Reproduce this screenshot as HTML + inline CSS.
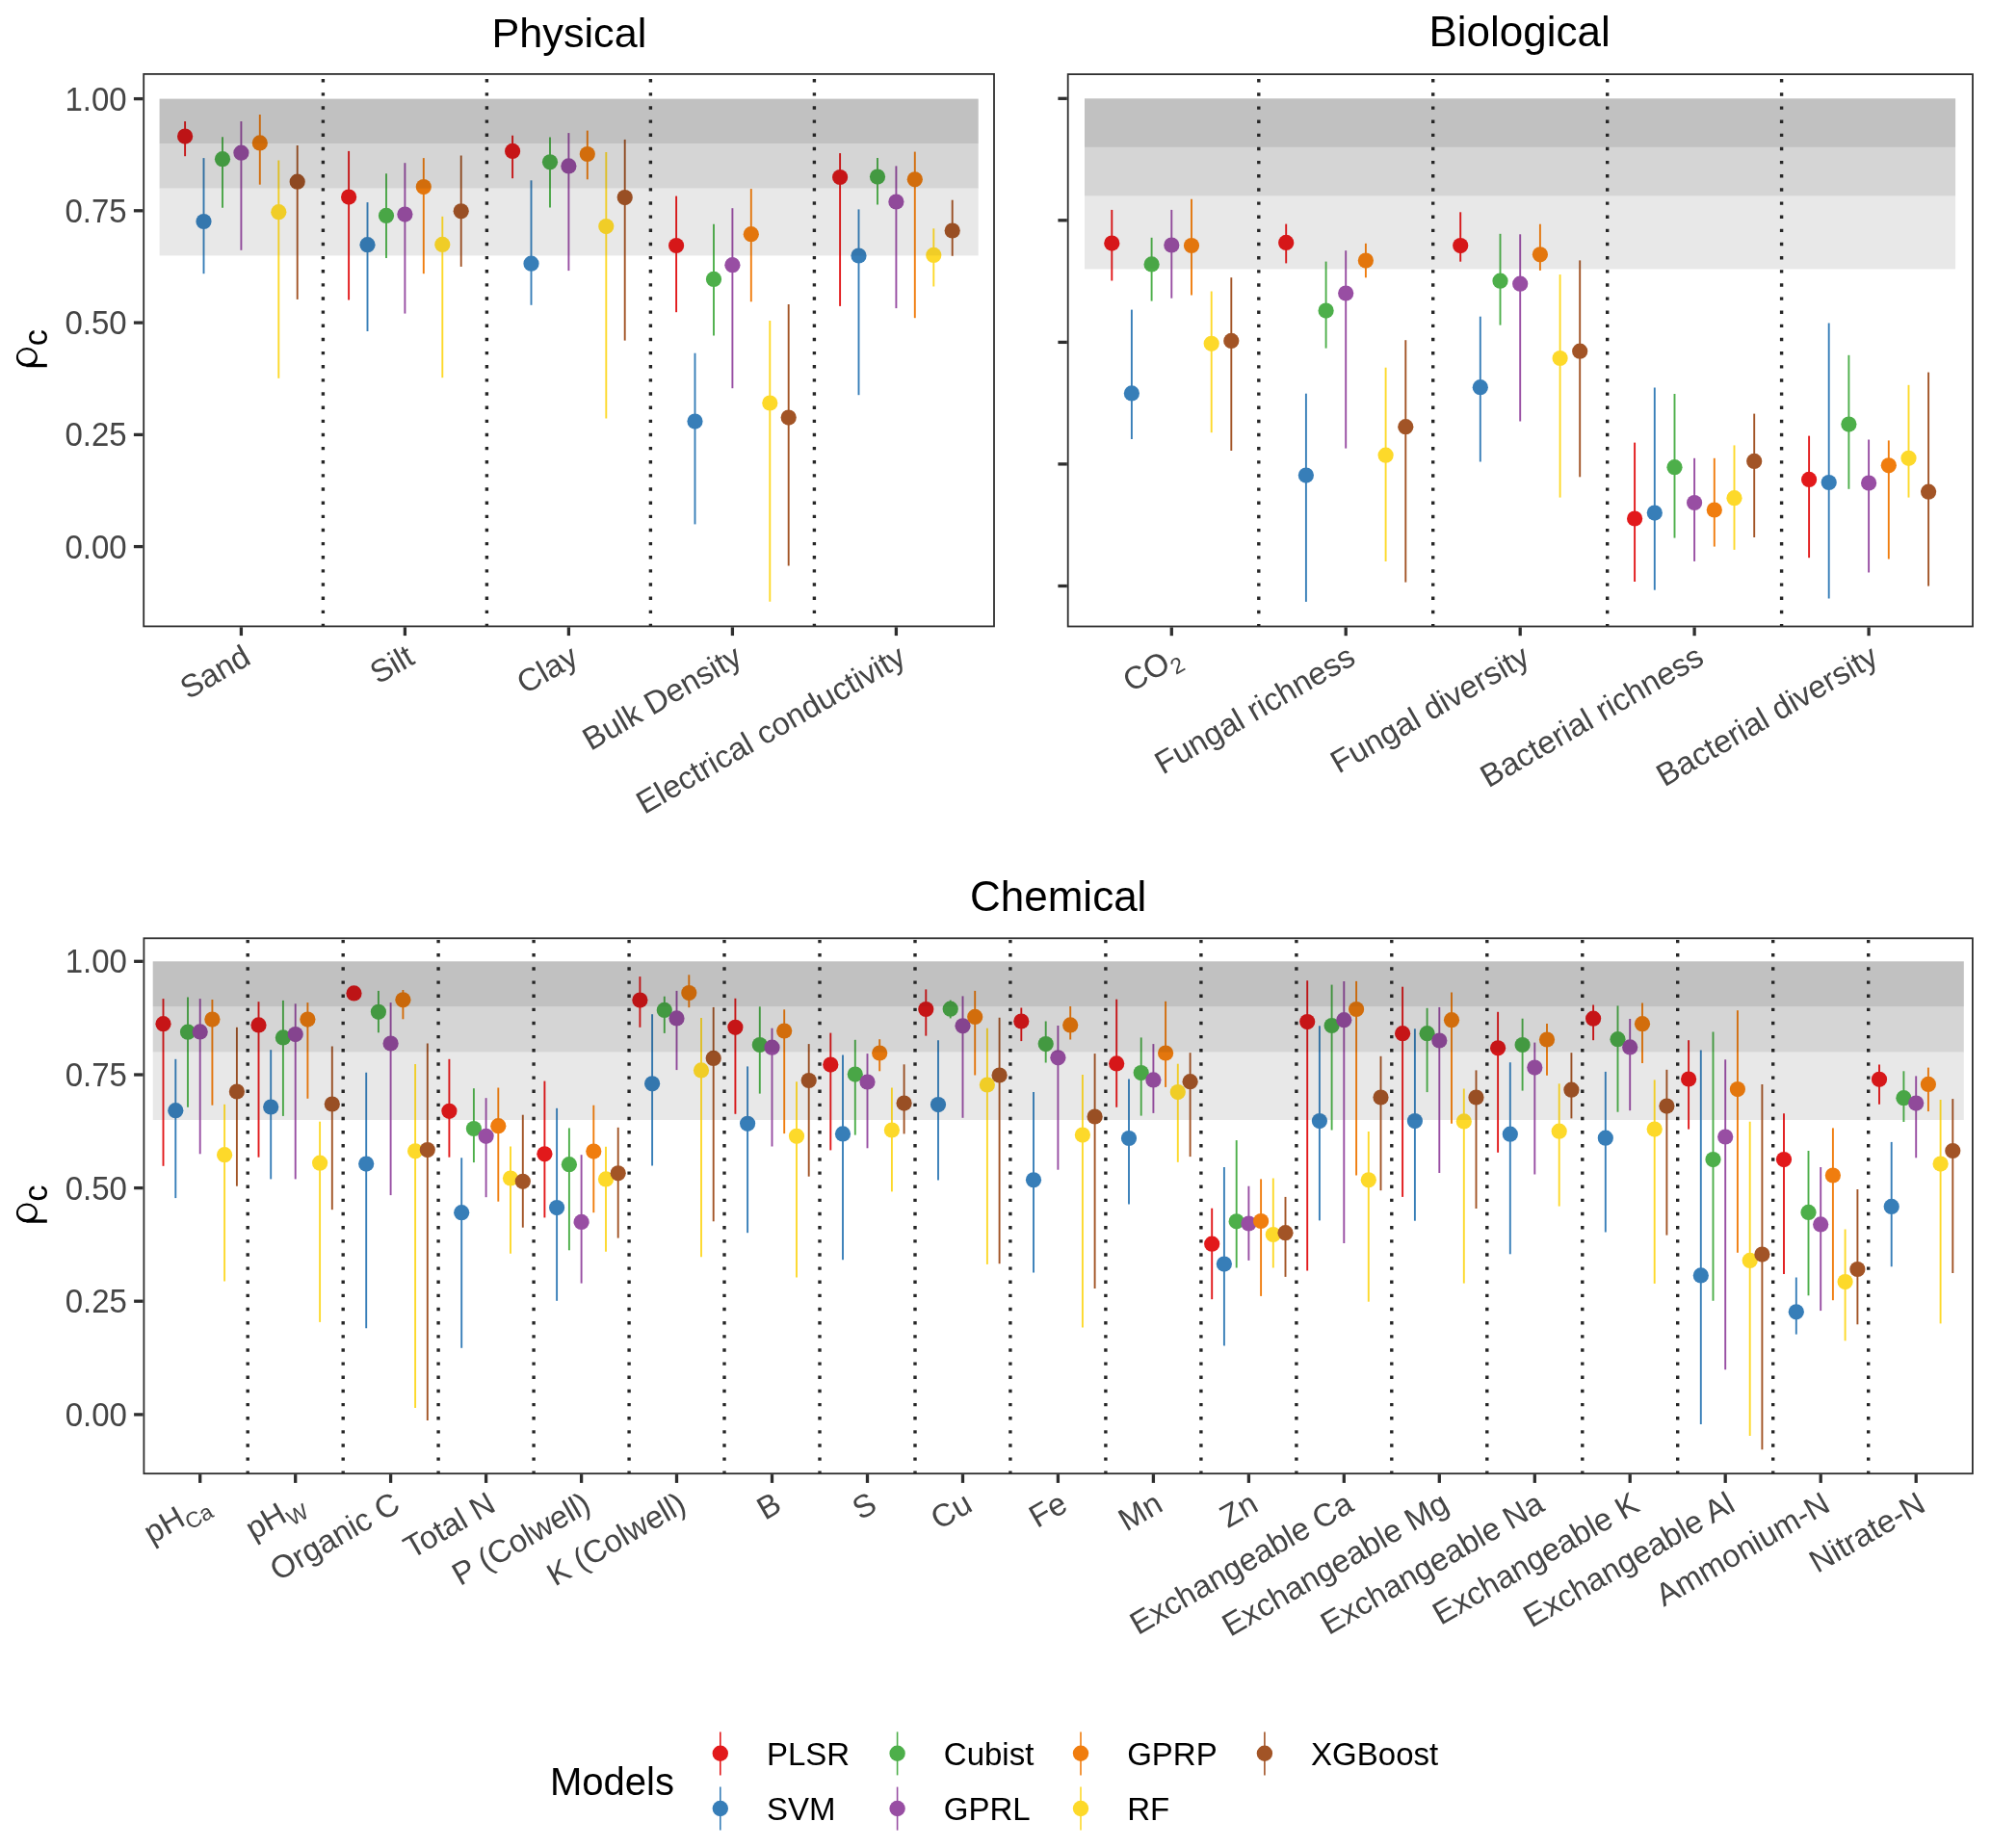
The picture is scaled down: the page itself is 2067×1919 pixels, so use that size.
<!DOCTYPE html>
<html><head><meta charset="utf-8"><title>Model performance</title>
<style>
html,body{margin:0;padding:0;background:#fff;}
body{width:2067px;height:1919px;overflow:hidden;font-family:"Liberation Sans",sans-serif;}
svg{display:block;filter:opacity(1);}
</style></head>
<body>
<svg width="2067" height="1919" viewBox="0 0 2067 1919">
<rect width="2067" height="1919" fill="#fff"/>
<rect x="165.6" y="102.6" width="850.1" height="46.5" fill="#e6e6e6"/>
<rect x="165.6" y="149.1" width="850.1" height="46.5" fill="#f3f3f3"/>
<rect x="165.6" y="195.6" width="850.1" height="69.8" fill="#f5f5f5"/>
<line x1="192.1" x2="192.1" y1="126.0" y2="162.2" stroke="#e2191b" stroke-width="1.9"/>
<circle cx="192.1" cy="141.6" r="8.1" fill="#e2191b"/>
<line x1="211.5" x2="211.5" y1="164.1" y2="284.2" stroke="#377eb8" stroke-width="1.9"/>
<circle cx="211.5" cy="230.0" r="8.1" fill="#377eb8"/>
<line x1="231.0" x2="231.0" y1="142.2" y2="215.8" stroke="#4daf4a" stroke-width="1.9"/>
<circle cx="231.0" cy="165.2" r="8.1" fill="#4daf4a"/>
<line x1="250.4" x2="250.4" y1="126.0" y2="259.8" stroke="#984ea3" stroke-width="1.9"/>
<circle cx="250.4" cy="158.7" r="8.1" fill="#984ea3"/>
<line x1="269.8" x2="269.8" y1="119.0" y2="191.7" stroke="#f07d0e" stroke-width="1.9"/>
<circle cx="269.8" cy="148.4" r="8.1" fill="#f07d0e"/>
<line x1="289.3" x2="289.3" y1="166.5" y2="392.8" stroke="#fdd92a" stroke-width="1.9"/>
<circle cx="289.3" cy="220.2" r="8.1" fill="#fdd92a"/>
<line x1="308.7" x2="308.7" y1="151.0" y2="310.9" stroke="#a25426" stroke-width="1.9"/>
<circle cx="308.7" cy="188.7" r="8.1" fill="#a25426"/>
<line x1="362.1" x2="362.1" y1="156.9" y2="311.5" stroke="#e2191b" stroke-width="1.9"/>
<circle cx="362.1" cy="204.6" r="8.1" fill="#e2191b"/>
<line x1="381.5" x2="381.5" y1="210.1" y2="344.0" stroke="#377eb8" stroke-width="1.9"/>
<circle cx="381.5" cy="254.2" r="8.1" fill="#377eb8"/>
<line x1="401.0" x2="401.0" y1="180.3" y2="268.0" stroke="#4daf4a" stroke-width="1.9"/>
<circle cx="401.0" cy="223.9" r="8.1" fill="#4daf4a"/>
<line x1="420.4" x2="420.4" y1="169.2" y2="325.6" stroke="#984ea3" stroke-width="1.9"/>
<circle cx="420.4" cy="222.6" r="8.1" fill="#984ea3"/>
<line x1="439.8" x2="439.8" y1="164.1" y2="284.2" stroke="#f07d0e" stroke-width="1.9"/>
<circle cx="439.8" cy="194.1" r="8.1" fill="#f07d0e"/>
<line x1="459.3" x2="459.3" y1="224.8" y2="392.2" stroke="#fdd92a" stroke-width="1.9"/>
<circle cx="459.3" cy="253.9" r="8.1" fill="#fdd92a"/>
<line x1="478.7" x2="478.7" y1="161.5" y2="276.9" stroke="#a25426" stroke-width="1.9"/>
<circle cx="478.7" cy="219.3" r="8.1" fill="#a25426"/>
<line x1="532.1" x2="532.1" y1="140.7" y2="185.2" stroke="#e2191b" stroke-width="1.9"/>
<circle cx="532.1" cy="156.9" r="8.1" fill="#e2191b"/>
<line x1="551.5" x2="551.5" y1="187.3" y2="316.8" stroke="#377eb8" stroke-width="1.9"/>
<circle cx="551.5" cy="273.7" r="8.1" fill="#377eb8"/>
<line x1="571.0" x2="571.0" y1="142.6" y2="215.6" stroke="#4daf4a" stroke-width="1.9"/>
<circle cx="571.0" cy="168.3" r="8.1" fill="#4daf4a"/>
<line x1="590.4" x2="590.4" y1="138.1" y2="281.1" stroke="#984ea3" stroke-width="1.9"/>
<circle cx="590.4" cy="172.4" r="8.1" fill="#984ea3"/>
<line x1="609.8" x2="609.8" y1="135.6" y2="186.3" stroke="#f07d0e" stroke-width="1.9"/>
<circle cx="609.8" cy="160.0" r="8.1" fill="#f07d0e"/>
<line x1="629.3" x2="629.3" y1="158.0" y2="434.6" stroke="#fdd92a" stroke-width="1.9"/>
<circle cx="629.3" cy="235.1" r="8.1" fill="#fdd92a"/>
<line x1="648.7" x2="648.7" y1="144.9" y2="353.6" stroke="#a25426" stroke-width="1.9"/>
<circle cx="648.7" cy="205.1" r="8.1" fill="#a25426"/>
<line x1="702.1" x2="702.1" y1="203.6" y2="324.2" stroke="#e2191b" stroke-width="1.9"/>
<circle cx="702.1" cy="255.0" r="8.1" fill="#e2191b"/>
<line x1="721.5" x2="721.5" y1="366.7" y2="544.4" stroke="#377eb8" stroke-width="1.9"/>
<circle cx="721.5" cy="437.6" r="8.1" fill="#377eb8"/>
<line x1="741.0" x2="741.0" y1="232.7" y2="348.6" stroke="#4daf4a" stroke-width="1.9"/>
<circle cx="741.0" cy="289.9" r="8.1" fill="#4daf4a"/>
<line x1="760.4" x2="760.4" y1="216.2" y2="403.2" stroke="#984ea3" stroke-width="1.9"/>
<circle cx="760.4" cy="275.2" r="8.1" fill="#984ea3"/>
<line x1="779.8" x2="779.8" y1="196.1" y2="313.3" stroke="#f07d0e" stroke-width="1.9"/>
<circle cx="779.8" cy="243.2" r="8.1" fill="#f07d0e"/>
<line x1="799.3" x2="799.3" y1="333.1" y2="624.8" stroke="#fdd92a" stroke-width="1.9"/>
<circle cx="799.3" cy="418.5" r="8.1" fill="#fdd92a"/>
<line x1="818.7" x2="818.7" y1="316.1" y2="587.6" stroke="#a25426" stroke-width="1.9"/>
<circle cx="818.7" cy="433.6" r="8.1" fill="#a25426"/>
<line x1="872.1" x2="872.1" y1="159.1" y2="317.9" stroke="#e2191b" stroke-width="1.9"/>
<circle cx="872.1" cy="184.0" r="8.1" fill="#e2191b"/>
<line x1="891.5" x2="891.5" y1="217.4" y2="410.2" stroke="#377eb8" stroke-width="1.9"/>
<circle cx="891.5" cy="265.5" r="8.1" fill="#377eb8"/>
<line x1="911.0" x2="911.0" y1="164.1" y2="212.5" stroke="#4daf4a" stroke-width="1.9"/>
<circle cx="911.0" cy="183.6" r="8.1" fill="#4daf4a"/>
<line x1="930.4" x2="930.4" y1="172.4" y2="320.1" stroke="#984ea3" stroke-width="1.9"/>
<circle cx="930.4" cy="209.5" r="8.1" fill="#984ea3"/>
<line x1="949.8" x2="949.8" y1="157.6" y2="330.2" stroke="#f07d0e" stroke-width="1.9"/>
<circle cx="949.8" cy="186.3" r="8.1" fill="#f07d0e"/>
<line x1="969.3" x2="969.3" y1="237.3" y2="297.5" stroke="#fdd92a" stroke-width="1.9"/>
<circle cx="969.3" cy="264.9" r="8.1" fill="#fdd92a"/>
<line x1="988.7" x2="988.7" y1="207.7" y2="265.8" stroke="#a25426" stroke-width="1.9"/>
<circle cx="988.7" cy="239.5" r="8.1" fill="#a25426"/>
<rect x="165.6" y="102.6" width="850.1" height="46.5" fill="#000" fill-opacity="0.16"/>
<rect x="165.6" y="149.1" width="850.1" height="46.5" fill="#000" fill-opacity="0.12"/>
<rect x="165.6" y="195.6" width="850.1" height="69.8" fill="#000" fill-opacity="0.05"/>
<clipPath id="cpPhy"><rect x="149.2" y="76.9" width="882.8" height="574.1"/></clipPath>
<g clip-path="url(#cpPhy)">
<line x1="335.4" x2="335.4" y1="651.2" y2="76.9" stroke="#262626" stroke-width="3.4" stroke-dasharray="3.4 10.745"/>
<line x1="505.4" x2="505.4" y1="651.2" y2="76.9" stroke="#262626" stroke-width="3.4" stroke-dasharray="3.4 10.745"/>
<line x1="675.4" x2="675.4" y1="651.2" y2="76.9" stroke="#262626" stroke-width="3.4" stroke-dasharray="3.4 10.745"/>
<line x1="845.4" x2="845.4" y1="651.2" y2="76.9" stroke="#262626" stroke-width="3.4" stroke-dasharray="3.4 10.745"/>
</g>
<rect x="149.2" y="76.9" width="882.8" height="573.5" fill="none" stroke="#2e2e2e" stroke-width="1.8"/>
<line x1="138.9" x2="148.3" y1="102.6" y2="102.6" stroke="#2e2e2e" stroke-width="3.3"/>
<text transform="translate(131.7,114.6) scale(1,1.09)" text-anchor="end" font-size="33" fill="#454545" font-family="Liberation Sans, sans-serif">1.00</text>
<line x1="138.9" x2="148.3" y1="218.8" y2="218.8" stroke="#2e2e2e" stroke-width="3.3"/>
<text transform="translate(131.7,230.8) scale(1,1.09)" text-anchor="end" font-size="33" fill="#454545" font-family="Liberation Sans, sans-serif">0.75</text>
<line x1="138.9" x2="148.3" y1="335.1" y2="335.1" stroke="#2e2e2e" stroke-width="3.3"/>
<text transform="translate(131.7,347.1) scale(1,1.09)" text-anchor="end" font-size="33" fill="#454545" font-family="Liberation Sans, sans-serif">0.50</text>
<line x1="138.9" x2="148.3" y1="451.4" y2="451.4" stroke="#2e2e2e" stroke-width="3.3"/>
<text transform="translate(131.7,463.4) scale(1,1.09)" text-anchor="end" font-size="33" fill="#454545" font-family="Liberation Sans, sans-serif">0.25</text>
<line x1="138.9" x2="148.3" y1="567.6" y2="567.6" stroke="#2e2e2e" stroke-width="3.3"/>
<text transform="translate(131.7,579.6) scale(1,1.09)" text-anchor="end" font-size="33" fill="#454545" font-family="Liberation Sans, sans-serif">0.00</text>
<line x1="250.4" x2="250.4" y1="651.3" y2="660.1" stroke="#2e2e2e" stroke-width="3.3"/>
<text transform="translate(262.2,688.2) rotate(-30)" text-anchor="end" font-size="33" fill="#454545" font-family="Liberation Sans, sans-serif">Sand</text>
<line x1="420.4" x2="420.4" y1="651.3" y2="660.1" stroke="#2e2e2e" stroke-width="3.3"/>
<text transform="translate(432.2,688.2) rotate(-30)" text-anchor="end" font-size="33" fill="#454545" font-family="Liberation Sans, sans-serif">Silt</text>
<line x1="590.4" x2="590.4" y1="651.3" y2="660.1" stroke="#2e2e2e" stroke-width="3.3"/>
<text transform="translate(602.2,688.2) rotate(-30)" text-anchor="end" font-size="33" fill="#454545" font-family="Liberation Sans, sans-serif">Clay</text>
<line x1="760.4" x2="760.4" y1="651.3" y2="660.1" stroke="#2e2e2e" stroke-width="3.3"/>
<text transform="translate(772.2,688.2) rotate(-30)" text-anchor="end" font-size="33" fill="#454545" font-family="Liberation Sans, sans-serif">Bulk Density</text>
<line x1="930.4" x2="930.4" y1="651.3" y2="660.1" stroke="#2e2e2e" stroke-width="3.3"/>
<text transform="translate(942.2,688.2) rotate(-30)" text-anchor="end" font-size="33" fill="#454545" font-family="Liberation Sans, sans-serif">Electrical conductivity</text>
<text x="590.9" y="48.8" text-anchor="middle" font-size="43.2" fill="#000" font-family="Liberation Sans, sans-serif">Physical</text>
<rect x="1126.0" y="102.3" width="904.1" height="50.6" fill="#e6e6e6"/>
<rect x="1126.0" y="152.9" width="904.1" height="50.6" fill="#f3f3f3"/>
<rect x="1126.0" y="203.5" width="904.1" height="75.9" fill="#f5f5f5"/>
<line x1="1154.3" x2="1154.3" y1="217.9" y2="291.5" stroke="#e2191b" stroke-width="1.9"/>
<circle cx="1154.3" cy="252.6" r="8.1" fill="#e2191b"/>
<line x1="1174.9" x2="1174.9" y1="321.6" y2="456.0" stroke="#377eb8" stroke-width="1.9"/>
<circle cx="1174.9" cy="408.4" r="8.1" fill="#377eb8"/>
<line x1="1195.6" x2="1195.6" y1="246.8" y2="312.6" stroke="#4daf4a" stroke-width="1.9"/>
<circle cx="1195.6" cy="274.4" r="8.1" fill="#4daf4a"/>
<line x1="1216.3" x2="1216.3" y1="217.9" y2="309.7" stroke="#984ea3" stroke-width="1.9"/>
<circle cx="1216.3" cy="254.5" r="8.1" fill="#984ea3"/>
<line x1="1237.0" x2="1237.0" y1="206.8" y2="306.5" stroke="#f07d0e" stroke-width="1.9"/>
<circle cx="1237.0" cy="255.0" r="8.1" fill="#f07d0e"/>
<line x1="1257.7" x2="1257.7" y1="302.5" y2="449.2" stroke="#fdd92a" stroke-width="1.9"/>
<circle cx="1257.7" cy="356.8" r="8.1" fill="#fdd92a"/>
<line x1="1278.3" x2="1278.3" y1="288.2" y2="468.0" stroke="#a25426" stroke-width="1.9"/>
<circle cx="1278.3" cy="353.9" r="8.1" fill="#a25426"/>
<line x1="1335.2" x2="1335.2" y1="232.6" y2="273.4" stroke="#e2191b" stroke-width="1.9"/>
<circle cx="1335.2" cy="251.9" r="8.1" fill="#e2191b"/>
<line x1="1355.9" x2="1355.9" y1="408.7" y2="624.9" stroke="#377eb8" stroke-width="1.9"/>
<circle cx="1355.9" cy="493.6" r="8.1" fill="#377eb8"/>
<line x1="1376.6" x2="1376.6" y1="271.6" y2="361.6" stroke="#4daf4a" stroke-width="1.9"/>
<circle cx="1376.6" cy="322.6" r="8.1" fill="#4daf4a"/>
<line x1="1397.2" x2="1397.2" y1="260.2" y2="465.6" stroke="#984ea3" stroke-width="1.9"/>
<circle cx="1397.2" cy="304.5" r="8.1" fill="#984ea3"/>
<line x1="1417.9" x2="1417.9" y1="252.8" y2="288.3" stroke="#f07d0e" stroke-width="1.9"/>
<circle cx="1417.9" cy="270.6" r="8.1" fill="#f07d0e"/>
<line x1="1438.6" x2="1438.6" y1="381.7" y2="583.0" stroke="#fdd92a" stroke-width="1.9"/>
<circle cx="1438.6" cy="472.7" r="8.1" fill="#fdd92a"/>
<line x1="1459.3" x2="1459.3" y1="353.2" y2="604.6" stroke="#a25426" stroke-width="1.9"/>
<circle cx="1459.3" cy="443.2" r="8.1" fill="#a25426"/>
<line x1="1516.2" x2="1516.2" y1="220.3" y2="271.7" stroke="#e2191b" stroke-width="1.9"/>
<circle cx="1516.2" cy="255.1" r="8.1" fill="#e2191b"/>
<line x1="1536.8" x2="1536.8" y1="328.7" y2="479.5" stroke="#377eb8" stroke-width="1.9"/>
<circle cx="1536.8" cy="402.2" r="8.1" fill="#377eb8"/>
<line x1="1557.5" x2="1557.5" y1="242.8" y2="337.6" stroke="#4daf4a" stroke-width="1.9"/>
<circle cx="1557.5" cy="291.7" r="8.1" fill="#4daf4a"/>
<line x1="1578.2" x2="1578.2" y1="243.3" y2="437.5" stroke="#984ea3" stroke-width="1.9"/>
<circle cx="1578.2" cy="294.7" r="8.1" fill="#984ea3"/>
<line x1="1598.9" x2="1598.9" y1="232.7" y2="280.9" stroke="#f07d0e" stroke-width="1.9"/>
<circle cx="1598.9" cy="264.3" r="8.1" fill="#f07d0e"/>
<line x1="1619.6" x2="1619.6" y1="285.1" y2="516.6" stroke="#fdd92a" stroke-width="1.9"/>
<circle cx="1619.6" cy="372.0" r="8.1" fill="#fdd92a"/>
<line x1="1640.2" x2="1640.2" y1="270.4" y2="495.3" stroke="#a25426" stroke-width="1.9"/>
<circle cx="1640.2" cy="364.7" r="8.1" fill="#a25426"/>
<line x1="1697.1" x2="1697.1" y1="459.6" y2="604.0" stroke="#e2191b" stroke-width="1.9"/>
<circle cx="1697.1" cy="538.5" r="8.1" fill="#e2191b"/>
<line x1="1717.8" x2="1717.8" y1="402.5" y2="612.7" stroke="#377eb8" stroke-width="1.9"/>
<circle cx="1717.8" cy="532.6" r="8.1" fill="#377eb8"/>
<line x1="1738.5" x2="1738.5" y1="409.0" y2="558.6" stroke="#4daf4a" stroke-width="1.9"/>
<circle cx="1738.5" cy="485.2" r="8.1" fill="#4daf4a"/>
<line x1="1759.1" x2="1759.1" y1="475.8" y2="582.9" stroke="#984ea3" stroke-width="1.9"/>
<circle cx="1759.1" cy="522.0" r="8.1" fill="#984ea3"/>
<line x1="1779.8" x2="1779.8" y1="475.8" y2="567.6" stroke="#f07d0e" stroke-width="1.9"/>
<circle cx="1779.8" cy="529.5" r="8.1" fill="#f07d0e"/>
<line x1="1800.5" x2="1800.5" y1="462.4" y2="570.9" stroke="#fdd92a" stroke-width="1.9"/>
<circle cx="1800.5" cy="517.2" r="8.1" fill="#fdd92a"/>
<line x1="1821.2" x2="1821.2" y1="429.6" y2="558.0" stroke="#a25426" stroke-width="1.9"/>
<circle cx="1821.2" cy="478.9" r="8.1" fill="#a25426"/>
<line x1="1878.1" x2="1878.1" y1="452.6" y2="579.2" stroke="#e2191b" stroke-width="1.9"/>
<circle cx="1878.1" cy="497.9" r="8.1" fill="#e2191b"/>
<line x1="1898.7" x2="1898.7" y1="335.6" y2="621.5" stroke="#377eb8" stroke-width="1.9"/>
<circle cx="1898.7" cy="501.0" r="8.1" fill="#377eb8"/>
<line x1="1919.4" x2="1919.4" y1="368.8" y2="507.8" stroke="#4daf4a" stroke-width="1.9"/>
<circle cx="1919.4" cy="440.6" r="8.1" fill="#4daf4a"/>
<line x1="1940.1" x2="1940.1" y1="456.5" y2="594.5" stroke="#984ea3" stroke-width="1.9"/>
<circle cx="1940.1" cy="501.5" r="8.1" fill="#984ea3"/>
<line x1="1960.8" x2="1960.8" y1="457.4" y2="580.5" stroke="#f07d0e" stroke-width="1.9"/>
<circle cx="1960.8" cy="483.3" r="8.1" fill="#f07d0e"/>
<line x1="1981.5" x2="1981.5" y1="399.8" y2="516.6" stroke="#fdd92a" stroke-width="1.9"/>
<circle cx="1981.5" cy="475.8" r="8.1" fill="#fdd92a"/>
<line x1="2002.1" x2="2002.1" y1="386.6" y2="608.6" stroke="#a25426" stroke-width="1.9"/>
<circle cx="2002.1" cy="510.7" r="8.1" fill="#a25426"/>
<rect x="1126.0" y="102.3" width="904.1" height="50.6" fill="#000" fill-opacity="0.16"/>
<rect x="1126.0" y="152.9" width="904.1" height="50.6" fill="#000" fill-opacity="0.12"/>
<rect x="1126.0" y="203.5" width="904.1" height="75.9" fill="#000" fill-opacity="0.05"/>
<clipPath id="cpBio"><rect x="1108.7" y="77.1" width="939.3" height="574.0"/></clipPath>
<g clip-path="url(#cpBio)">
<line x1="1306.8" x2="1306.8" y1="651.3" y2="77.1" stroke="#262626" stroke-width="3.4" stroke-dasharray="3.4 10.745"/>
<line x1="1487.7" x2="1487.7" y1="651.3" y2="77.1" stroke="#262626" stroke-width="3.4" stroke-dasharray="3.4 10.745"/>
<line x1="1668.7" x2="1668.7" y1="651.3" y2="77.1" stroke="#262626" stroke-width="3.4" stroke-dasharray="3.4 10.745"/>
<line x1="1849.6" x2="1849.6" y1="651.3" y2="77.1" stroke="#262626" stroke-width="3.4" stroke-dasharray="3.4 10.745"/>
</g>
<rect x="1108.7" y="77.1" width="939.3" height="573.4" fill="none" stroke="#2e2e2e" stroke-width="1.8"/>
<line x1="1098.4" x2="1107.8" y1="102.3" y2="102.3" stroke="#2e2e2e" stroke-width="3.3"/>
<line x1="1098.4" x2="1107.8" y1="228.8" y2="228.8" stroke="#2e2e2e" stroke-width="3.3"/>
<line x1="1098.4" x2="1107.8" y1="355.4" y2="355.4" stroke="#2e2e2e" stroke-width="3.3"/>
<line x1="1098.4" x2="1107.8" y1="481.9" y2="481.9" stroke="#2e2e2e" stroke-width="3.3"/>
<line x1="1098.4" x2="1107.8" y1="608.5" y2="608.5" stroke="#2e2e2e" stroke-width="3.3"/>
<line x1="1216.3" x2="1216.3" y1="651.4" y2="660.2" stroke="#2e2e2e" stroke-width="3.3"/>
<text transform="translate(1228.1,688.2) rotate(-30)" text-anchor="end" font-size="33" fill="#454545" font-family="Liberation Sans, sans-serif">CO<tspan font-size="23" dy="7.4">2</tspan></text>
<line x1="1397.2" x2="1397.2" y1="651.4" y2="660.2" stroke="#2e2e2e" stroke-width="3.3"/>
<text transform="translate(1409.0,688.2) rotate(-30)" text-anchor="end" font-size="33" fill="#454545" font-family="Liberation Sans, sans-serif">Fungal richness</text>
<line x1="1578.2" x2="1578.2" y1="651.4" y2="660.2" stroke="#2e2e2e" stroke-width="3.3"/>
<text transform="translate(1590.0,688.2) rotate(-30)" text-anchor="end" font-size="33" fill="#454545" font-family="Liberation Sans, sans-serif">Fungal diversity</text>
<line x1="1759.1" x2="1759.1" y1="651.4" y2="660.2" stroke="#2e2e2e" stroke-width="3.3"/>
<text transform="translate(1770.9,688.2) rotate(-30)" text-anchor="end" font-size="33" fill="#454545" font-family="Liberation Sans, sans-serif">Bacterial richness</text>
<line x1="1940.1" x2="1940.1" y1="651.4" y2="660.2" stroke="#2e2e2e" stroke-width="3.3"/>
<text transform="translate(1951.9,688.2) rotate(-30)" text-anchor="end" font-size="33" fill="#454545" font-family="Liberation Sans, sans-serif">Bacterial diversity</text>
<text x="1577.6" y="48.0" text-anchor="middle" font-size="44" fill="#000" font-family="Liberation Sans, sans-serif">Biological</text>
<rect x="158.7" y="998.3" width="1880.1" height="47.1" fill="#e6e6e6"/>
<rect x="158.7" y="1045.4" width="1880.1" height="47.1" fill="#f3f3f3"/>
<rect x="158.7" y="1092.4" width="1880.1" height="70.6" fill="#f5f5f5"/>
<line x1="169.5" x2="169.5" y1="1037.1" y2="1210.8" stroke="#e2191b" stroke-width="1.9"/>
<circle cx="169.5" cy="1063.2" r="8.1" fill="#e2191b"/>
<line x1="182.3" x2="182.3" y1="1099.8" y2="1244.1" stroke="#377eb8" stroke-width="1.9"/>
<circle cx="182.3" cy="1153.2" r="8.1" fill="#377eb8"/>
<line x1="195.0" x2="195.0" y1="1035.6" y2="1149.8" stroke="#4daf4a" stroke-width="1.9"/>
<circle cx="195.0" cy="1071.7" r="8.1" fill="#4daf4a"/>
<line x1="207.7" x2="207.7" y1="1037.1" y2="1198.3" stroke="#984ea3" stroke-width="1.9"/>
<circle cx="207.7" cy="1071.4" r="8.1" fill="#984ea3"/>
<line x1="220.4" x2="220.4" y1="1038.0" y2="1147.7" stroke="#f07d0e" stroke-width="1.9"/>
<circle cx="220.4" cy="1058.6" r="8.1" fill="#f07d0e"/>
<line x1="233.1" x2="233.1" y1="1146.8" y2="1330.5" stroke="#fdd92a" stroke-width="1.9"/>
<circle cx="233.1" cy="1199.2" r="8.1" fill="#fdd92a"/>
<line x1="245.9" x2="245.9" y1="1066.8" y2="1231.7" stroke="#a25426" stroke-width="1.9"/>
<circle cx="245.9" cy="1133.5" r="8.1" fill="#a25426"/>
<line x1="268.5" x2="268.5" y1="1040.2" y2="1201.7" stroke="#e2191b" stroke-width="1.9"/>
<circle cx="268.5" cy="1064.4" r="8.1" fill="#e2191b"/>
<line x1="281.2" x2="281.2" y1="1090.2" y2="1224.4" stroke="#377eb8" stroke-width="1.9"/>
<circle cx="281.2" cy="1149.5" r="8.1" fill="#377eb8"/>
<line x1="293.9" x2="293.9" y1="1038.9" y2="1158.9" stroke="#4daf4a" stroke-width="1.9"/>
<circle cx="293.9" cy="1077.4" r="8.1" fill="#4daf4a"/>
<line x1="306.7" x2="306.7" y1="1042.3" y2="1224.4" stroke="#984ea3" stroke-width="1.9"/>
<circle cx="306.7" cy="1074.1" r="8.1" fill="#984ea3"/>
<line x1="319.4" x2="319.4" y1="1041.1" y2="1140.8" stroke="#f07d0e" stroke-width="1.9"/>
<circle cx="319.4" cy="1058.6" r="8.1" fill="#f07d0e"/>
<line x1="332.1" x2="332.1" y1="1164.7" y2="1372.9" stroke="#fdd92a" stroke-width="1.9"/>
<circle cx="332.1" cy="1207.7" r="8.1" fill="#fdd92a"/>
<line x1="344.8" x2="344.8" y1="1086.5" y2="1256.2" stroke="#a25426" stroke-width="1.9"/>
<circle cx="344.8" cy="1146.5" r="8.1" fill="#a25426"/>
<line x1="367.5" x2="367.5" y1="1027.0" y2="1036.0" stroke="#e2191b" stroke-width="1.9"/>
<circle cx="367.5" cy="1031.4" r="8.1" fill="#e2191b"/>
<line x1="380.2" x2="380.2" y1="1113.8" y2="1379.2" stroke="#377eb8" stroke-width="1.9"/>
<circle cx="380.2" cy="1208.6" r="8.1" fill="#377eb8"/>
<line x1="392.9" x2="392.9" y1="1028.9" y2="1072.3" stroke="#4daf4a" stroke-width="1.9"/>
<circle cx="392.9" cy="1050.8" r="8.1" fill="#4daf4a"/>
<line x1="405.6" x2="405.6" y1="1041.1" y2="1241.1" stroke="#984ea3" stroke-width="1.9"/>
<circle cx="405.6" cy="1083.5" r="8.1" fill="#984ea3"/>
<line x1="418.4" x2="418.4" y1="1028.0" y2="1058.3" stroke="#f07d0e" stroke-width="1.9"/>
<circle cx="418.4" cy="1038.3" r="8.1" fill="#f07d0e"/>
<line x1="431.1" x2="431.1" y1="1105.0" y2="1462.0" stroke="#fdd92a" stroke-width="1.9"/>
<circle cx="431.1" cy="1195.3" r="8.1" fill="#fdd92a"/>
<line x1="443.8" x2="443.8" y1="1083.5" y2="1475.0" stroke="#a25426" stroke-width="1.9"/>
<circle cx="443.8" cy="1194.1" r="8.1" fill="#a25426"/>
<line x1="466.4" x2="466.4" y1="1099.8" y2="1201.7" stroke="#e2191b" stroke-width="1.9"/>
<circle cx="466.4" cy="1153.8" r="8.1" fill="#e2191b"/>
<line x1="479.2" x2="479.2" y1="1202.3" y2="1399.8" stroke="#377eb8" stroke-width="1.9"/>
<circle cx="479.2" cy="1259.2" r="8.1" fill="#377eb8"/>
<line x1="491.9" x2="491.9" y1="1130.2" y2="1207.1" stroke="#4daf4a" stroke-width="1.9"/>
<circle cx="491.9" cy="1172.0" r="8.1" fill="#4daf4a"/>
<line x1="504.6" x2="504.6" y1="1140.2" y2="1243.2" stroke="#984ea3" stroke-width="1.9"/>
<circle cx="504.6" cy="1179.8" r="8.1" fill="#984ea3"/>
<line x1="517.3" x2="517.3" y1="1129.5" y2="1247.7" stroke="#f07d0e" stroke-width="1.9"/>
<circle cx="517.3" cy="1169.2" r="8.1" fill="#f07d0e"/>
<line x1="530.0" x2="530.0" y1="1190.5" y2="1301.7" stroke="#fdd92a" stroke-width="1.9"/>
<circle cx="530.0" cy="1223.5" r="8.1" fill="#fdd92a"/>
<line x1="542.8" x2="542.8" y1="1157.7" y2="1274.7" stroke="#a25426" stroke-width="1.9"/>
<circle cx="542.8" cy="1226.8" r="8.1" fill="#a25426"/>
<line x1="565.4" x2="565.4" y1="1122.6" y2="1264.4" stroke="#e2191b" stroke-width="1.9"/>
<circle cx="565.4" cy="1198.3" r="8.1" fill="#e2191b"/>
<line x1="578.1" x2="578.1" y1="1150.8" y2="1350.8" stroke="#377eb8" stroke-width="1.9"/>
<circle cx="578.1" cy="1254.1" r="8.1" fill="#377eb8"/>
<line x1="590.9" x2="590.9" y1="1171.4" y2="1298.3" stroke="#4daf4a" stroke-width="1.9"/>
<circle cx="590.9" cy="1209.2" r="8.1" fill="#4daf4a"/>
<line x1="603.6" x2="603.6" y1="1199.2" y2="1332.6" stroke="#984ea3" stroke-width="1.9"/>
<circle cx="603.6" cy="1268.9" r="8.1" fill="#984ea3"/>
<line x1="616.3" x2="616.3" y1="1147.7" y2="1259.2" stroke="#f07d0e" stroke-width="1.9"/>
<circle cx="616.3" cy="1195.6" r="8.1" fill="#f07d0e"/>
<line x1="629.0" x2="629.0" y1="1190.8" y2="1299.8" stroke="#fdd92a" stroke-width="1.9"/>
<circle cx="629.0" cy="1224.4" r="8.1" fill="#fdd92a"/>
<line x1="641.7" x2="641.7" y1="1170.8" y2="1285.6" stroke="#a25426" stroke-width="1.9"/>
<circle cx="641.7" cy="1218.3" r="8.1" fill="#a25426"/>
<line x1="664.4" x2="664.4" y1="1014.1" y2="1066.8" stroke="#e2191b" stroke-width="1.9"/>
<circle cx="664.4" cy="1038.6" r="8.1" fill="#e2191b"/>
<line x1="677.1" x2="677.1" y1="1053.2" y2="1210.5" stroke="#377eb8" stroke-width="1.9"/>
<circle cx="677.1" cy="1125.3" r="8.1" fill="#377eb8"/>
<line x1="689.8" x2="689.8" y1="1034.7" y2="1072.9" stroke="#4daf4a" stroke-width="1.9"/>
<circle cx="689.8" cy="1048.9" r="8.1" fill="#4daf4a"/>
<line x1="702.5" x2="702.5" y1="1028.9" y2="1111.1" stroke="#984ea3" stroke-width="1.9"/>
<circle cx="702.5" cy="1057.4" r="8.1" fill="#984ea3"/>
<line x1="715.3" x2="715.3" y1="1012.3" y2="1046.2" stroke="#f07d0e" stroke-width="1.9"/>
<circle cx="715.3" cy="1031.1" r="8.1" fill="#f07d0e"/>
<line x1="728.0" x2="728.0" y1="1057.1" y2="1305.3" stroke="#fdd92a" stroke-width="1.9"/>
<circle cx="728.0" cy="1111.4" r="8.1" fill="#fdd92a"/>
<line x1="740.7" x2="740.7" y1="1045.9" y2="1268.3" stroke="#a25426" stroke-width="1.9"/>
<circle cx="740.7" cy="1098.9" r="8.1" fill="#a25426"/>
<line x1="763.4" x2="763.4" y1="1036.8" y2="1156.8" stroke="#e2191b" stroke-width="1.9"/>
<circle cx="763.4" cy="1066.8" r="8.1" fill="#e2191b"/>
<line x1="776.1" x2="776.1" y1="1107.4" y2="1280.2" stroke="#377eb8" stroke-width="1.9"/>
<circle cx="776.1" cy="1166.8" r="8.1" fill="#377eb8"/>
<line x1="788.8" x2="788.8" y1="1045.3" y2="1135.6" stroke="#4daf4a" stroke-width="1.9"/>
<circle cx="788.8" cy="1085.0" r="8.1" fill="#4daf4a"/>
<line x1="801.5" x2="801.5" y1="1067.7" y2="1190.5" stroke="#984ea3" stroke-width="1.9"/>
<circle cx="801.5" cy="1087.7" r="8.1" fill="#984ea3"/>
<line x1="814.2" x2="814.2" y1="1048.3" y2="1177.1" stroke="#f07d0e" stroke-width="1.9"/>
<circle cx="814.2" cy="1070.5" r="8.1" fill="#f07d0e"/>
<line x1="827.0" x2="827.0" y1="1123.2" y2="1326.5" stroke="#fdd92a" stroke-width="1.9"/>
<circle cx="827.0" cy="1179.8" r="8.1" fill="#fdd92a"/>
<line x1="839.7" x2="839.7" y1="1084.1" y2="1221.7" stroke="#a25426" stroke-width="1.9"/>
<circle cx="839.7" cy="1122.0" r="8.1" fill="#a25426"/>
<line x1="862.3" x2="862.3" y1="1072.6" y2="1194.4" stroke="#e2191b" stroke-width="1.9"/>
<circle cx="862.3" cy="1105.6" r="8.1" fill="#e2191b"/>
<line x1="875.0" x2="875.0" y1="1095.6" y2="1308.3" stroke="#377eb8" stroke-width="1.9"/>
<circle cx="875.0" cy="1177.4" r="8.1" fill="#377eb8"/>
<line x1="887.8" x2="887.8" y1="1079.8" y2="1178.6" stroke="#4daf4a" stroke-width="1.9"/>
<circle cx="887.8" cy="1115.6" r="8.1" fill="#4daf4a"/>
<line x1="900.5" x2="900.5" y1="1094.1" y2="1192.3" stroke="#984ea3" stroke-width="1.9"/>
<circle cx="900.5" cy="1123.5" r="8.1" fill="#984ea3"/>
<line x1="913.2" x2="913.2" y1="1079.2" y2="1112.3" stroke="#f07d0e" stroke-width="1.9"/>
<circle cx="913.2" cy="1093.5" r="8.1" fill="#f07d0e"/>
<line x1="925.9" x2="925.9" y1="1129.5" y2="1237.4" stroke="#fdd92a" stroke-width="1.9"/>
<circle cx="925.9" cy="1173.5" r="8.1" fill="#fdd92a"/>
<line x1="938.6" x2="938.6" y1="1105.3" y2="1177.4" stroke="#a25426" stroke-width="1.9"/>
<circle cx="938.6" cy="1145.6" r="8.1" fill="#a25426"/>
<line x1="961.3" x2="961.3" y1="1027.4" y2="1075.6" stroke="#e2191b" stroke-width="1.9"/>
<circle cx="961.3" cy="1048.0" r="8.1" fill="#e2191b"/>
<line x1="974.0" x2="974.0" y1="1080.2" y2="1225.6" stroke="#377eb8" stroke-width="1.9"/>
<circle cx="974.0" cy="1147.1" r="8.1" fill="#377eb8"/>
<line x1="986.7" x2="986.7" y1="1038.6" y2="1057.4" stroke="#4daf4a" stroke-width="1.9"/>
<circle cx="986.7" cy="1047.7" r="8.1" fill="#4daf4a"/>
<line x1="999.5" x2="999.5" y1="1034.4" y2="1160.8" stroke="#984ea3" stroke-width="1.9"/>
<circle cx="999.5" cy="1065.3" r="8.1" fill="#984ea3"/>
<line x1="1012.2" x2="1012.2" y1="1028.9" y2="1116.5" stroke="#f07d0e" stroke-width="1.9"/>
<circle cx="1012.2" cy="1055.9" r="8.1" fill="#f07d0e"/>
<line x1="1024.9" x2="1024.9" y1="1067.7" y2="1312.9" stroke="#fdd92a" stroke-width="1.9"/>
<circle cx="1024.9" cy="1126.5" r="8.1" fill="#fdd92a"/>
<line x1="1037.6" x2="1037.6" y1="1056.8" y2="1312.3" stroke="#a25426" stroke-width="1.9"/>
<circle cx="1037.6" cy="1116.5" r="8.1" fill="#a25426"/>
<line x1="1060.3" x2="1060.3" y1="1046.5" y2="1081.1" stroke="#e2191b" stroke-width="1.9"/>
<circle cx="1060.3" cy="1060.5" r="8.1" fill="#e2191b"/>
<line x1="1073.0" x2="1073.0" y1="1134.1" y2="1321.4" stroke="#377eb8" stroke-width="1.9"/>
<circle cx="1073.0" cy="1225.3" r="8.1" fill="#377eb8"/>
<line x1="1085.7" x2="1085.7" y1="1060.5" y2="1103.5" stroke="#4daf4a" stroke-width="1.9"/>
<circle cx="1085.7" cy="1084.1" r="8.1" fill="#4daf4a"/>
<line x1="1098.4" x2="1098.4" y1="1065.0" y2="1214.7" stroke="#984ea3" stroke-width="1.9"/>
<circle cx="1098.4" cy="1098.3" r="8.1" fill="#984ea3"/>
<line x1="1111.2" x2="1111.2" y1="1045.0" y2="1079.5" stroke="#f07d0e" stroke-width="1.9"/>
<circle cx="1111.2" cy="1064.4" r="8.1" fill="#f07d0e"/>
<line x1="1123.9" x2="1123.9" y1="1115.9" y2="1378.6" stroke="#fdd92a" stroke-width="1.9"/>
<circle cx="1123.9" cy="1178.6" r="8.1" fill="#fdd92a"/>
<line x1="1136.6" x2="1136.6" y1="1094.1" y2="1338.0" stroke="#a25426" stroke-width="1.9"/>
<circle cx="1136.6" cy="1159.5" r="8.1" fill="#a25426"/>
<line x1="1159.2" x2="1159.2" y1="1037.7" y2="1149.8" stroke="#e2191b" stroke-width="1.9"/>
<circle cx="1159.2" cy="1104.4" r="8.1" fill="#e2191b"/>
<line x1="1172.0" x2="1172.0" y1="1120.5" y2="1250.5" stroke="#377eb8" stroke-width="1.9"/>
<circle cx="1172.0" cy="1182.0" r="8.1" fill="#377eb8"/>
<line x1="1184.7" x2="1184.7" y1="1077.4" y2="1158.6" stroke="#4daf4a" stroke-width="1.9"/>
<circle cx="1184.7" cy="1114.1" r="8.1" fill="#4daf4a"/>
<line x1="1197.4" x2="1197.4" y1="1084.1" y2="1155.9" stroke="#984ea3" stroke-width="1.9"/>
<circle cx="1197.4" cy="1121.4" r="8.1" fill="#984ea3"/>
<line x1="1210.1" x2="1210.1" y1="1039.8" y2="1128.9" stroke="#f07d0e" stroke-width="1.9"/>
<circle cx="1210.1" cy="1093.5" r="8.1" fill="#f07d0e"/>
<line x1="1222.8" x2="1222.8" y1="1104.7" y2="1206.8" stroke="#fdd92a" stroke-width="1.9"/>
<circle cx="1222.8" cy="1134.1" r="8.1" fill="#fdd92a"/>
<line x1="1235.6" x2="1235.6" y1="1093.2" y2="1201.1" stroke="#a25426" stroke-width="1.9"/>
<circle cx="1235.6" cy="1123.2" r="8.1" fill="#a25426"/>
<line x1="1258.2" x2="1258.2" y1="1254.7" y2="1349.2" stroke="#e2191b" stroke-width="1.9"/>
<circle cx="1258.2" cy="1291.7" r="8.1" fill="#e2191b"/>
<line x1="1270.9" x2="1270.9" y1="1212.0" y2="1397.4" stroke="#377eb8" stroke-width="1.9"/>
<circle cx="1270.9" cy="1312.6" r="8.1" fill="#377eb8"/>
<line x1="1283.7" x2="1283.7" y1="1184.1" y2="1316.5" stroke="#4daf4a" stroke-width="1.9"/>
<circle cx="1283.7" cy="1268.3" r="8.1" fill="#4daf4a"/>
<line x1="1296.4" x2="1296.4" y1="1231.7" y2="1308.9" stroke="#984ea3" stroke-width="1.9"/>
<circle cx="1296.4" cy="1270.5" r="8.1" fill="#984ea3"/>
<line x1="1309.1" x2="1309.1" y1="1224.4" y2="1345.9" stroke="#f07d0e" stroke-width="1.9"/>
<circle cx="1309.1" cy="1268.0" r="8.1" fill="#f07d0e"/>
<line x1="1321.8" x2="1321.8" y1="1223.5" y2="1316.5" stroke="#fdd92a" stroke-width="1.9"/>
<circle cx="1321.8" cy="1282.0" r="8.1" fill="#fdd92a"/>
<line x1="1334.5" x2="1334.5" y1="1242.9" y2="1325.9" stroke="#a25426" stroke-width="1.9"/>
<circle cx="1334.5" cy="1280.2" r="8.1" fill="#a25426"/>
<line x1="1357.2" x2="1357.2" y1="1018.3" y2="1319.5" stroke="#e2191b" stroke-width="1.9"/>
<circle cx="1357.2" cy="1061.1" r="8.1" fill="#e2191b"/>
<line x1="1369.9" x2="1369.9" y1="1065.3" y2="1267.4" stroke="#377eb8" stroke-width="1.9"/>
<circle cx="1369.9" cy="1164.1" r="8.1" fill="#377eb8"/>
<line x1="1382.6" x2="1382.6" y1="1022.6" y2="1173.5" stroke="#4daf4a" stroke-width="1.9"/>
<circle cx="1382.6" cy="1065.0" r="8.1" fill="#4daf4a"/>
<line x1="1395.3" x2="1395.3" y1="1018.9" y2="1291.1" stroke="#984ea3" stroke-width="1.9"/>
<circle cx="1395.3" cy="1059.2" r="8.1" fill="#984ea3"/>
<line x1="1408.1" x2="1408.1" y1="1018.9" y2="1220.5" stroke="#f07d0e" stroke-width="1.9"/>
<circle cx="1408.1" cy="1048.0" r="8.1" fill="#f07d0e"/>
<line x1="1420.8" x2="1420.8" y1="1175.0" y2="1351.7" stroke="#fdd92a" stroke-width="1.9"/>
<circle cx="1420.8" cy="1225.3" r="8.1" fill="#fdd92a"/>
<line x1="1433.5" x2="1433.5" y1="1096.8" y2="1236.2" stroke="#a25426" stroke-width="1.9"/>
<circle cx="1433.5" cy="1139.5" r="8.1" fill="#a25426"/>
<line x1="1456.1" x2="1456.1" y1="1024.7" y2="1242.9" stroke="#e2191b" stroke-width="1.9"/>
<circle cx="1456.1" cy="1073.2" r="8.1" fill="#e2191b"/>
<line x1="1468.9" x2="1468.9" y1="1068.3" y2="1267.7" stroke="#377eb8" stroke-width="1.9"/>
<circle cx="1468.9" cy="1164.1" r="8.1" fill="#377eb8"/>
<line x1="1481.6" x2="1481.6" y1="1046.8" y2="1134.1" stroke="#4daf4a" stroke-width="1.9"/>
<circle cx="1481.6" cy="1073.2" r="8.1" fill="#4daf4a"/>
<line x1="1494.3" x2="1494.3" y1="1045.9" y2="1218.0" stroke="#984ea3" stroke-width="1.9"/>
<circle cx="1494.3" cy="1080.5" r="8.1" fill="#984ea3"/>
<line x1="1507.0" x2="1507.0" y1="1030.5" y2="1166.8" stroke="#f07d0e" stroke-width="1.9"/>
<circle cx="1507.0" cy="1059.2" r="8.1" fill="#f07d0e"/>
<line x1="1519.8" x2="1519.8" y1="1130.5" y2="1332.6" stroke="#fdd92a" stroke-width="1.9"/>
<circle cx="1519.8" cy="1164.4" r="8.1" fill="#fdd92a"/>
<line x1="1532.5" x2="1532.5" y1="1111.4" y2="1255.0" stroke="#a25426" stroke-width="1.9"/>
<circle cx="1532.5" cy="1139.5" r="8.1" fill="#a25426"/>
<line x1="1555.1" x2="1555.1" y1="1050.8" y2="1196.8" stroke="#e2191b" stroke-width="1.9"/>
<circle cx="1555.1" cy="1088.3" r="8.1" fill="#e2191b"/>
<line x1="1567.8" x2="1567.8" y1="1103.2" y2="1302.3" stroke="#377eb8" stroke-width="1.9"/>
<circle cx="1567.8" cy="1177.7" r="8.1" fill="#377eb8"/>
<line x1="1580.6" x2="1580.6" y1="1057.7" y2="1132.6" stroke="#4daf4a" stroke-width="1.9"/>
<circle cx="1580.6" cy="1085.0" r="8.1" fill="#4daf4a"/>
<line x1="1593.3" x2="1593.3" y1="1082.6" y2="1219.5" stroke="#984ea3" stroke-width="1.9"/>
<circle cx="1593.3" cy="1108.6" r="8.1" fill="#984ea3"/>
<line x1="1606.0" x2="1606.0" y1="1062.9" y2="1116.8" stroke="#f07d0e" stroke-width="1.9"/>
<circle cx="1606.0" cy="1079.5" r="8.1" fill="#f07d0e"/>
<line x1="1618.7" x2="1618.7" y1="1125.3" y2="1252.6" stroke="#fdd92a" stroke-width="1.9"/>
<circle cx="1618.7" cy="1174.7" r="8.1" fill="#fdd92a"/>
<line x1="1631.4" x2="1631.4" y1="1093.2" y2="1161.4" stroke="#a25426" stroke-width="1.9"/>
<circle cx="1631.4" cy="1131.7" r="8.1" fill="#a25426"/>
<line x1="1654.1" x2="1654.1" y1="1043.5" y2="1080.2" stroke="#e2191b" stroke-width="1.9"/>
<circle cx="1654.1" cy="1057.7" r="8.1" fill="#e2191b"/>
<line x1="1666.8" x2="1666.8" y1="1112.9" y2="1279.5" stroke="#377eb8" stroke-width="1.9"/>
<circle cx="1666.8" cy="1181.7" r="8.1" fill="#377eb8"/>
<line x1="1679.5" x2="1679.5" y1="1044.4" y2="1154.7" stroke="#4daf4a" stroke-width="1.9"/>
<circle cx="1679.5" cy="1079.2" r="8.1" fill="#4daf4a"/>
<line x1="1692.2" x2="1692.2" y1="1058.0" y2="1153.2" stroke="#984ea3" stroke-width="1.9"/>
<circle cx="1692.2" cy="1087.4" r="8.1" fill="#984ea3"/>
<line x1="1705.0" x2="1705.0" y1="1041.4" y2="1104.1" stroke="#f07d0e" stroke-width="1.9"/>
<circle cx="1705.0" cy="1063.2" r="8.1" fill="#f07d0e"/>
<line x1="1717.7" x2="1717.7" y1="1121.4" y2="1332.9" stroke="#fdd92a" stroke-width="1.9"/>
<circle cx="1717.7" cy="1172.6" r="8.1" fill="#fdd92a"/>
<line x1="1730.4" x2="1730.4" y1="1110.8" y2="1282.6" stroke="#a25426" stroke-width="1.9"/>
<circle cx="1730.4" cy="1148.6" r="8.1" fill="#a25426"/>
<line x1="1753.1" x2="1753.1" y1="1080.2" y2="1172.6" stroke="#e2191b" stroke-width="1.9"/>
<circle cx="1753.1" cy="1120.5" r="8.1" fill="#e2191b"/>
<line x1="1765.8" x2="1765.8" y1="1090.5" y2="1478.9" stroke="#377eb8" stroke-width="1.9"/>
<circle cx="1765.8" cy="1324.4" r="8.1" fill="#377eb8"/>
<line x1="1778.5" x2="1778.5" y1="1071.4" y2="1350.8" stroke="#4daf4a" stroke-width="1.9"/>
<circle cx="1778.5" cy="1204.1" r="8.1" fill="#4daf4a"/>
<line x1="1791.2" x2="1791.2" y1="1100.2" y2="1422.3" stroke="#984ea3" stroke-width="1.9"/>
<circle cx="1791.2" cy="1180.5" r="8.1" fill="#984ea3"/>
<line x1="1803.9" x2="1803.9" y1="1049.2" y2="1300.8" stroke="#f07d0e" stroke-width="1.9"/>
<circle cx="1803.9" cy="1131.1" r="8.1" fill="#f07d0e"/>
<line x1="1816.7" x2="1816.7" y1="1164.7" y2="1491.1" stroke="#fdd92a" stroke-width="1.9"/>
<circle cx="1816.7" cy="1308.9" r="8.1" fill="#fdd92a"/>
<line x1="1829.4" x2="1829.4" y1="1125.9" y2="1505.3" stroke="#a25426" stroke-width="1.9"/>
<circle cx="1829.4" cy="1302.6" r="8.1" fill="#a25426"/>
<line x1="1852.0" x2="1852.0" y1="1156.2" y2="1322.9" stroke="#e2191b" stroke-width="1.9"/>
<circle cx="1852.0" cy="1204.1" r="8.1" fill="#e2191b"/>
<line x1="1864.8" x2="1864.8" y1="1326.5" y2="1385.6" stroke="#377eb8" stroke-width="1.9"/>
<circle cx="1864.8" cy="1362.3" r="8.1" fill="#377eb8"/>
<line x1="1877.5" x2="1877.5" y1="1195.0" y2="1345.3" stroke="#4daf4a" stroke-width="1.9"/>
<circle cx="1877.5" cy="1258.9" r="8.1" fill="#4daf4a"/>
<line x1="1890.2" x2="1890.2" y1="1212.0" y2="1361.1" stroke="#984ea3" stroke-width="1.9"/>
<circle cx="1890.2" cy="1271.4" r="8.1" fill="#984ea3"/>
<line x1="1902.9" x2="1902.9" y1="1171.4" y2="1350.2" stroke="#f07d0e" stroke-width="1.9"/>
<circle cx="1902.9" cy="1220.5" r="8.1" fill="#f07d0e"/>
<line x1="1915.6" x2="1915.6" y1="1276.5" y2="1392.3" stroke="#fdd92a" stroke-width="1.9"/>
<circle cx="1915.6" cy="1331.1" r="8.1" fill="#fdd92a"/>
<line x1="1928.4" x2="1928.4" y1="1235.0" y2="1375.3" stroke="#a25426" stroke-width="1.9"/>
<circle cx="1928.4" cy="1318.0" r="8.1" fill="#a25426"/>
<line x1="1951.0" x2="1951.0" y1="1105.6" y2="1146.8" stroke="#e2191b" stroke-width="1.9"/>
<circle cx="1951.0" cy="1120.8" r="8.1" fill="#e2191b"/>
<line x1="1963.7" x2="1963.7" y1="1185.9" y2="1315.3" stroke="#377eb8" stroke-width="1.9"/>
<circle cx="1963.7" cy="1252.9" r="8.1" fill="#377eb8"/>
<line x1="1976.4" x2="1976.4" y1="1112.3" y2="1165.0" stroke="#4daf4a" stroke-width="1.9"/>
<circle cx="1976.4" cy="1140.2" r="8.1" fill="#4daf4a"/>
<line x1="1989.2" x2="1989.2" y1="1117.4" y2="1202.3" stroke="#984ea3" stroke-width="1.9"/>
<circle cx="1989.2" cy="1145.6" r="8.1" fill="#984ea3"/>
<line x1="2001.9" x2="2001.9" y1="1108.6" y2="1154.1" stroke="#f07d0e" stroke-width="1.9"/>
<circle cx="2001.9" cy="1125.9" r="8.1" fill="#f07d0e"/>
<line x1="2014.6" x2="2014.6" y1="1142.0" y2="1374.4" stroke="#fdd92a" stroke-width="1.9"/>
<circle cx="2014.6" cy="1208.6" r="8.1" fill="#fdd92a"/>
<line x1="2027.3" x2="2027.3" y1="1141.1" y2="1322.0" stroke="#a25426" stroke-width="1.9"/>
<circle cx="2027.3" cy="1195.0" r="8.1" fill="#a25426"/>
<rect x="158.7" y="998.3" width="1880.1" height="47.1" fill="#000" fill-opacity="0.16"/>
<rect x="158.7" y="1045.4" width="1880.1" height="47.1" fill="#000" fill-opacity="0.12"/>
<rect x="158.7" y="1092.4" width="1880.1" height="70.6" fill="#000" fill-opacity="0.05"/>
<clipPath id="cpChe"><rect x="149.4" y="974.3" width="1898.5" height="556.5"/></clipPath>
<g clip-path="url(#cpChe)">
<line x1="257.2" x2="257.2" y1="1531.0" y2="974.3" stroke="#262626" stroke-width="3.4" stroke-dasharray="3.4 10.745"/>
<line x1="356.2" x2="356.2" y1="1531.0" y2="974.3" stroke="#262626" stroke-width="3.4" stroke-dasharray="3.4 10.745"/>
<line x1="455.1" x2="455.1" y1="1531.0" y2="974.3" stroke="#262626" stroke-width="3.4" stroke-dasharray="3.4 10.745"/>
<line x1="554.1" x2="554.1" y1="1531.0" y2="974.3" stroke="#262626" stroke-width="3.4" stroke-dasharray="3.4 10.745"/>
<line x1="653.1" x2="653.1" y1="1531.0" y2="974.3" stroke="#262626" stroke-width="3.4" stroke-dasharray="3.4 10.745"/>
<line x1="752.0" x2="752.0" y1="1531.0" y2="974.3" stroke="#262626" stroke-width="3.4" stroke-dasharray="3.4 10.745"/>
<line x1="851.0" x2="851.0" y1="1531.0" y2="974.3" stroke="#262626" stroke-width="3.4" stroke-dasharray="3.4 10.745"/>
<line x1="950.0" x2="950.0" y1="1531.0" y2="974.3" stroke="#262626" stroke-width="3.4" stroke-dasharray="3.4 10.745"/>
<line x1="1048.9" x2="1048.9" y1="1531.0" y2="974.3" stroke="#262626" stroke-width="3.4" stroke-dasharray="3.4 10.745"/>
<line x1="1147.9" x2="1147.9" y1="1531.0" y2="974.3" stroke="#262626" stroke-width="3.4" stroke-dasharray="3.4 10.745"/>
<line x1="1246.9" x2="1246.9" y1="1531.0" y2="974.3" stroke="#262626" stroke-width="3.4" stroke-dasharray="3.4 10.745"/>
<line x1="1345.9" x2="1345.9" y1="1531.0" y2="974.3" stroke="#262626" stroke-width="3.4" stroke-dasharray="3.4 10.745"/>
<line x1="1444.8" x2="1444.8" y1="1531.0" y2="974.3" stroke="#262626" stroke-width="3.4" stroke-dasharray="3.4 10.745"/>
<line x1="1543.8" x2="1543.8" y1="1531.0" y2="974.3" stroke="#262626" stroke-width="3.4" stroke-dasharray="3.4 10.745"/>
<line x1="1642.8" x2="1642.8" y1="1531.0" y2="974.3" stroke="#262626" stroke-width="3.4" stroke-dasharray="3.4 10.745"/>
<line x1="1741.7" x2="1741.7" y1="1531.0" y2="974.3" stroke="#262626" stroke-width="3.4" stroke-dasharray="3.4 10.745"/>
<line x1="1840.7" x2="1840.7" y1="1531.0" y2="974.3" stroke="#262626" stroke-width="3.4" stroke-dasharray="3.4 10.745"/>
<line x1="1939.7" x2="1939.7" y1="1531.0" y2="974.3" stroke="#262626" stroke-width="3.4" stroke-dasharray="3.4 10.745"/>
</g>
<rect x="149.4" y="974.3" width="1898.5" height="555.9" fill="none" stroke="#2e2e2e" stroke-width="1.8"/>
<line x1="139.1" x2="148.5" y1="998.3" y2="998.3" stroke="#2e2e2e" stroke-width="3.3"/>
<text transform="translate(131.9,1010.3) scale(1,1.09)" text-anchor="end" font-size="33" fill="#454545" font-family="Liberation Sans, sans-serif">1.00</text>
<line x1="139.1" x2="148.5" y1="1116.0" y2="1116.0" stroke="#2e2e2e" stroke-width="3.3"/>
<text transform="translate(131.9,1128.0) scale(1,1.09)" text-anchor="end" font-size="33" fill="#454545" font-family="Liberation Sans, sans-serif">0.75</text>
<line x1="139.1" x2="148.5" y1="1233.6" y2="1233.6" stroke="#2e2e2e" stroke-width="3.3"/>
<text transform="translate(131.9,1245.6) scale(1,1.09)" text-anchor="end" font-size="33" fill="#454545" font-family="Liberation Sans, sans-serif">0.50</text>
<line x1="139.1" x2="148.5" y1="1351.2" y2="1351.2" stroke="#2e2e2e" stroke-width="3.3"/>
<text transform="translate(131.9,1363.2) scale(1,1.09)" text-anchor="end" font-size="33" fill="#454545" font-family="Liberation Sans, sans-serif">0.25</text>
<line x1="139.1" x2="148.5" y1="1468.9" y2="1468.9" stroke="#2e2e2e" stroke-width="3.3"/>
<text transform="translate(131.9,1480.9) scale(1,1.09)" text-anchor="end" font-size="33" fill="#454545" font-family="Liberation Sans, sans-serif">0.00</text>
<line x1="207.7" x2="207.7" y1="1531.1" y2="1539.9" stroke="#2e2e2e" stroke-width="3.3"/>
<text transform="translate(219.5,1567.9) rotate(-30)" text-anchor="end" font-size="33" fill="#454545" font-family="Liberation Sans, sans-serif">pH<tspan font-size="23" dy="7.4">Ca</tspan></text>
<line x1="306.7" x2="306.7" y1="1531.1" y2="1539.9" stroke="#2e2e2e" stroke-width="3.3"/>
<text transform="translate(318.5,1567.9) rotate(-30)" text-anchor="end" font-size="33" fill="#454545" font-family="Liberation Sans, sans-serif">pH<tspan font-size="23" dy="7.4">W</tspan></text>
<line x1="405.6" x2="405.6" y1="1531.1" y2="1539.9" stroke="#2e2e2e" stroke-width="3.3"/>
<text transform="translate(417.4,1567.9) rotate(-30)" text-anchor="end" font-size="33" fill="#454545" font-family="Liberation Sans, sans-serif">Organic C</text>
<line x1="504.6" x2="504.6" y1="1531.1" y2="1539.9" stroke="#2e2e2e" stroke-width="3.3"/>
<text transform="translate(516.4,1567.9) rotate(-30)" text-anchor="end" font-size="33" fill="#454545" font-family="Liberation Sans, sans-serif">Total N</text>
<line x1="603.6" x2="603.6" y1="1531.1" y2="1539.9" stroke="#2e2e2e" stroke-width="3.3"/>
<text transform="translate(615.4,1567.9) rotate(-30)" text-anchor="end" font-size="33" fill="#454545" font-family="Liberation Sans, sans-serif">P (Colwell)</text>
<line x1="702.5" x2="702.5" y1="1531.1" y2="1539.9" stroke="#2e2e2e" stroke-width="3.3"/>
<text transform="translate(714.3,1567.9) rotate(-30)" text-anchor="end" font-size="33" fill="#454545" font-family="Liberation Sans, sans-serif">K (Colwell)</text>
<line x1="801.5" x2="801.5" y1="1531.1" y2="1539.9" stroke="#2e2e2e" stroke-width="3.3"/>
<text transform="translate(813.3,1567.9) rotate(-30)" text-anchor="end" font-size="33" fill="#454545" font-family="Liberation Sans, sans-serif">B</text>
<line x1="900.5" x2="900.5" y1="1531.1" y2="1539.9" stroke="#2e2e2e" stroke-width="3.3"/>
<text transform="translate(912.3,1567.9) rotate(-30)" text-anchor="end" font-size="33" fill="#454545" font-family="Liberation Sans, sans-serif">S</text>
<line x1="999.5" x2="999.5" y1="1531.1" y2="1539.9" stroke="#2e2e2e" stroke-width="3.3"/>
<text transform="translate(1011.3,1567.9) rotate(-30)" text-anchor="end" font-size="33" fill="#454545" font-family="Liberation Sans, sans-serif">Cu</text>
<line x1="1098.4" x2="1098.4" y1="1531.1" y2="1539.9" stroke="#2e2e2e" stroke-width="3.3"/>
<text transform="translate(1110.2,1567.9) rotate(-30)" text-anchor="end" font-size="33" fill="#454545" font-family="Liberation Sans, sans-serif">Fe</text>
<line x1="1197.4" x2="1197.4" y1="1531.1" y2="1539.9" stroke="#2e2e2e" stroke-width="3.3"/>
<text transform="translate(1209.2,1567.9) rotate(-30)" text-anchor="end" font-size="33" fill="#454545" font-family="Liberation Sans, sans-serif">Mn</text>
<line x1="1296.4" x2="1296.4" y1="1531.1" y2="1539.9" stroke="#2e2e2e" stroke-width="3.3"/>
<text transform="translate(1308.2,1567.9) rotate(-30)" text-anchor="end" font-size="33" fill="#454545" font-family="Liberation Sans, sans-serif">Zn</text>
<line x1="1395.3" x2="1395.3" y1="1531.1" y2="1539.9" stroke="#2e2e2e" stroke-width="3.3"/>
<text transform="translate(1407.1,1567.9) rotate(-30)" text-anchor="end" font-size="33" fill="#454545" font-family="Liberation Sans, sans-serif">Exchangeable Ca</text>
<line x1="1494.3" x2="1494.3" y1="1531.1" y2="1539.9" stroke="#2e2e2e" stroke-width="3.3"/>
<text transform="translate(1506.1,1567.9) rotate(-30)" text-anchor="end" font-size="33" fill="#454545" font-family="Liberation Sans, sans-serif">Exchangeable Mg</text>
<line x1="1593.3" x2="1593.3" y1="1531.1" y2="1539.9" stroke="#2e2e2e" stroke-width="3.3"/>
<text transform="translate(1605.1,1567.9) rotate(-30)" text-anchor="end" font-size="33" fill="#454545" font-family="Liberation Sans, sans-serif">Exchangeable Na</text>
<line x1="1692.2" x2="1692.2" y1="1531.1" y2="1539.9" stroke="#2e2e2e" stroke-width="3.3"/>
<text transform="translate(1704.0,1567.9) rotate(-30)" text-anchor="end" font-size="33" fill="#454545" font-family="Liberation Sans, sans-serif">Exchangeable K</text>
<line x1="1791.2" x2="1791.2" y1="1531.1" y2="1539.9" stroke="#2e2e2e" stroke-width="3.3"/>
<text transform="translate(1803.0,1567.9) rotate(-30)" text-anchor="end" font-size="33" fill="#454545" font-family="Liberation Sans, sans-serif">Exchangeable Al</text>
<line x1="1890.2" x2="1890.2" y1="1531.1" y2="1539.9" stroke="#2e2e2e" stroke-width="3.3"/>
<text transform="translate(1902.0,1567.9) rotate(-30)" text-anchor="end" font-size="33" fill="#454545" font-family="Liberation Sans, sans-serif">Ammonium-N</text>
<line x1="1989.2" x2="1989.2" y1="1531.1" y2="1539.9" stroke="#2e2e2e" stroke-width="3.3"/>
<text transform="translate(2001.0,1567.9) rotate(-30)" text-anchor="end" font-size="33" fill="#454545" font-family="Liberation Sans, sans-serif">Nitrate-N</text>
<text x="1098.7" y="945.7" text-anchor="middle" font-size="44" fill="#000" font-family="Liberation Sans, sans-serif">Chemical</text>
<path d="M16.90,370.90a11.00,9.90 0 1,0 22.00,0a11.00,9.90 0 1,0 -22.00,0zM18.90,370.40a8.90,7.25 0 1,0 17.80,0a8.90,7.25 0 1,0 -17.80,0z" fill="#000" fill-rule="evenodd"/>
<rect x="27.5" y="377.9" width="21.3" height="3.3" fill="#000"/>
<text transform="translate(48.6,359.2) rotate(-90)" font-size="34.5" fill="#000" font-family="Liberation Sans, sans-serif">c</text>
<path d="M16.90,1259.40a11.00,9.90 0 1,0 22.00,0a11.00,9.90 0 1,0 -22.00,0zM18.90,1258.90a8.90,7.25 0 1,0 17.80,0a8.90,7.25 0 1,0 -17.80,0z" fill="#000" fill-rule="evenodd"/>
<rect x="27.5" y="1266.4" width="21.3" height="3.3" fill="#000"/>
<text transform="translate(48.6,1247.7) rotate(-90)" font-size="34.5" fill="#000" font-family="Liberation Sans, sans-serif">c</text>
<text x="571.0" y="1864.1" font-size="40" fill="#000" font-family="Liberation Sans, sans-serif">Models</text>
<line x1="747.8" x2="747.8" y1="1798.4" y2="1843.4" stroke="#e2191b" stroke-width="1.6"/>
<circle cx="747.8" cy="1820.8" r="8.2" fill="#e2191b"/>
<text x="796.0" y="1832.7" font-size="33" fill="#000" font-family="Liberation Sans, sans-serif">PLSR</text>
<line x1="747.8" x2="747.8" y1="1855.6" y2="1900.6" stroke="#377eb8" stroke-width="1.6"/>
<circle cx="747.8" cy="1878.0" r="8.2" fill="#377eb8"/>
<text x="796.0" y="1889.9" font-size="33" fill="#000" font-family="Liberation Sans, sans-serif">SVM</text>
<line x1="931.6" x2="931.6" y1="1798.4" y2="1843.4" stroke="#4daf4a" stroke-width="1.6"/>
<circle cx="931.6" cy="1820.8" r="8.2" fill="#4daf4a"/>
<text x="979.8" y="1832.7" font-size="33" fill="#000" font-family="Liberation Sans, sans-serif">Cubist</text>
<line x1="931.6" x2="931.6" y1="1855.6" y2="1900.6" stroke="#984ea3" stroke-width="1.6"/>
<circle cx="931.6" cy="1878.0" r="8.2" fill="#984ea3"/>
<text x="979.8" y="1889.9" font-size="33" fill="#000" font-family="Liberation Sans, sans-serif">GPRL</text>
<line x1="1122.0" x2="1122.0" y1="1798.4" y2="1843.4" stroke="#f07d0e" stroke-width="1.6"/>
<circle cx="1122.0" cy="1820.8" r="8.2" fill="#f07d0e"/>
<text x="1170.2" y="1832.7" font-size="33" fill="#000" font-family="Liberation Sans, sans-serif">GPRP</text>
<line x1="1122.0" x2="1122.0" y1="1855.6" y2="1900.6" stroke="#fdd92a" stroke-width="1.6"/>
<circle cx="1122.0" cy="1878.0" r="8.2" fill="#fdd92a"/>
<text x="1170.2" y="1889.9" font-size="33" fill="#000" font-family="Liberation Sans, sans-serif">RF</text>
<line x1="1312.9" x2="1312.9" y1="1798.4" y2="1843.4" stroke="#a25426" stroke-width="1.6"/>
<circle cx="1312.9" cy="1820.8" r="8.2" fill="#a25426"/>
<text x="1361.1" y="1832.7" font-size="33" fill="#000" font-family="Liberation Sans, sans-serif">XGBoost</text>
</svg>
</body></html>
